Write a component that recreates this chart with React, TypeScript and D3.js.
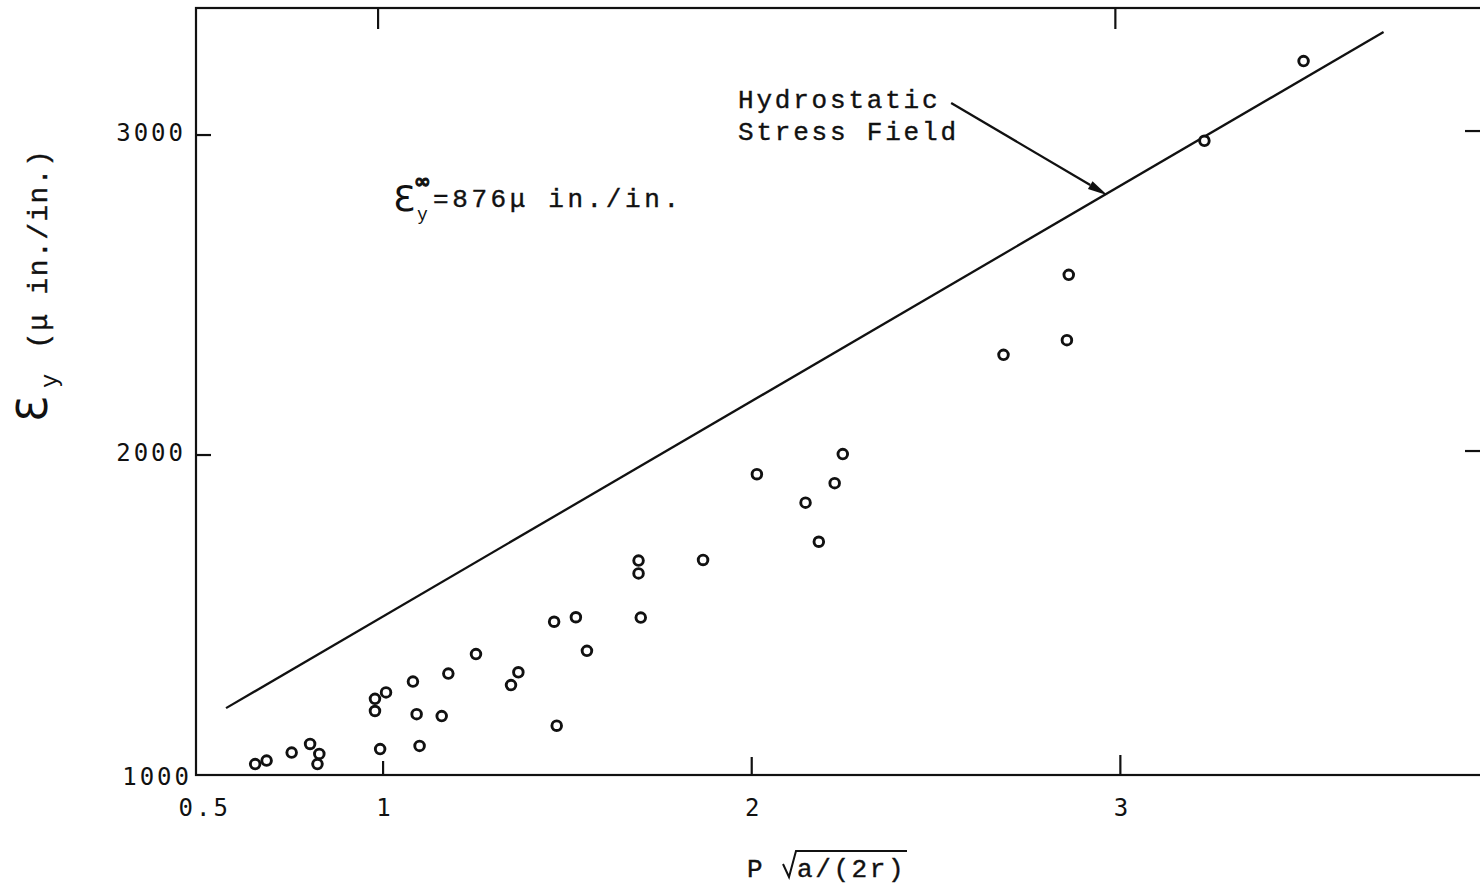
import React from "react";
import * as d3 from "d3";

// ---- data ----
const pointsX = [
  0.653, 0.684, 0.752, 0.802, 0.827, 0.822, 0.992, 0.978, 0.978, 1.008,
  1.081, 1.091, 1.099, 1.177, 1.159, 1.252, 1.347, 1.367, 1.471, 1.553,
  1.464, 1.523, 1.693, 1.693, 1.699, 1.868, 2.014, 2.247, 2.225, 2.146,
  2.182, 2.86, 2.855, 2.683, 3.497, 3.228,
];
const pointsY = [
  1034, 1045, 1070, 1097, 1066, 1034, 1081, 1200, 1238, 1258,
  1292, 1190, 1091, 1317, 1184, 1378, 1281, 1321, 1154, 1388,
  1479, 1493, 1670, 1630, 1492, 1672, 1940, 2003, 1912, 1851,
  1729, 2563, 2359, 2313, 3231, 2982,
];
const lineX = [0.574, 3.714];
const lineY = [1209, 3322];

const xTicksBottom = [1, 2, 3];
const xTickLabels = [
  { v: 0.5, t: "0.5" },
  { v: 1, t: "1" },
  { v: 2, t: "2" },
  { v: 3, t: "3" },
];
const xTicksTop = [1, 3];
const yTicks = [2000, 3000];
const yTickLabels = [
  { v: 1000, t: "1000" },
  { v: 2000, t: "2000" },
  { v: 3000, t: "3000" },
];

const X_DOMAIN = [0.4925, 4.0];
const Y_DOMAIN = [1000, 3397];

const W = 1480;
const H = 885;
const L = 196, R = 1489, T = 8, B = 775;

const mono = "'Liberation Mono', 'DejaVu Sans Mono', monospace";
const sansMono = "'DejaVu Sans Mono', 'Liberation Mono', monospace";

export default function App() {
  const x = d3.scaleLinear().domain(X_DOMAIN).range([L, R]);
  const y = d3.scaleLinear().domain(Y_DOMAIN).range([B, T]);

  const linePath = d3
    .line<number>()
    .x((_, i) => x(lineX[i]))
    .y((_, i) => y(lineY[i]))(lineX);

  // arrow in data coords
  const arrowStart = [2.541, 3100];
  const arrowEnd = [2.965, 2812];
  const ax1 = x(arrowStart[0]), ay1 = y(arrowStart[1]);
  const ax2 = x(arrowEnd[0]), ay2 = y(arrowEnd[1]);
  const ang = Math.atan2(ay2 - ay1, ax2 - ax1);
  const hl = 20, hw = 4.5;
  const bx = ax2 - hl * Math.cos(ang), by = ay2 - hl * Math.sin(ang);
  const head = `M${ax2},${ay2} L${bx + hw * Math.sin(ang)},${by - hw * Math.cos(ang)} L${bx - hw * Math.sin(ang)},${by + hw * Math.cos(ang)} Z`;

  const stroke = "#111";

  return (
    <svg
      width={W}
      height={H}
      style={{ position: "absolute", left: 0, top: 0, background: "#fff" }}
    >
      <rect x={0} y={0} width={W} height={H} fill="#fff" />
      {/* frame */}
      <rect x={L} y={T} width={R - L} height={B - T} fill="none" stroke={stroke} strokeWidth={2.2} />

      {/* ticks */}
      {xTicksBottom.map((v, i) => (
        <line key={"xb" + v} x1={x(v)} x2={x(v)} y1={B} y2={B - (i === 0 ? 14 : i === 1 ? 18 : 20)} stroke={stroke} strokeWidth={2.2} />
      ))}
      {xTicksTop.map((v) => (
        <line key={"xt" + v} x1={x(v) - 5} x2={x(v) - 5} y1={T} y2={T + 21} stroke={stroke} strokeWidth={2.2} />
      ))}
      {yTicks.map((v) => (
        <g key={"yt" + v}>
          <line x1={L} x2={L + 15} y1={y(v)} y2={y(v)} stroke={stroke} strokeWidth={2.2} />
          <line x1={1465} x2={1480} y1={y(v) - 4} y2={y(v) - 4} stroke={stroke} strokeWidth={2.2} />
        </g>
      ))}

      {/* tick labels */}
      {xTickLabels.map((d) => (
        <text key={"xl" + d.t} x={x(d.v) + (d.v === 0.5 ? 6 : 2)} y={816} textAnchor="middle" fontFamily={sansMono} fontSize={24} letterSpacing={3} fill={stroke}>
          {d.t}
        </text>
      ))}
      {yTickLabels.map((d) => (
        <text key={"yl" + d.t} x={d.v === 1000 ? 192 : 186} y={y(d.v) + (d.v === 1000 ? 10 : 6)} textAnchor="end" fontFamily={sansMono} fontSize={24} letterSpacing={3} fill={stroke}>
          {d.t}
        </text>
      ))}

      {/* hydrostatic line */}
      <path d={linePath || ""} fill="none" stroke={stroke} strokeWidth={2.3} />

      {/* points */}
      {pointsX.map((px, i) => (
        <circle key={i} cx={x(px)} cy={y(pointsY[i])} r={4.8} fill="#fff" stroke={stroke} strokeWidth={2.9} />
      ))}

      {/* arrow annotation */}
      <line x1={ax1} y1={ay1} x2={bx} y2={by} stroke={stroke} strokeWidth={2.3} />
      <path d={head} fill={stroke} />
      <text x={738} y={108} fontFamily={mono} fontSize={26} letterSpacing={2.8} fill={stroke} stroke={stroke} strokeWidth={0.4}>Hydrostatic</text>
      <text x={738} y={140} fontFamily={mono} fontSize={26} letterSpacing={2.8} fill={stroke} stroke={stroke} strokeWidth={0.4}>Stress Field</text>

      {/* epsilon infinity annotation */}
      <text x={393} y={211} fontFamily="'DejaVu Sans', sans-serif" fontSize={36} fill={stroke}>Ɛ</text>
      <text x={417} y={220} fontFamily={mono} fontSize={18} fill={stroke}>y</text>
      <text x={414} y={188} fontFamily="'DejaVu Sans', sans-serif" fontSize={20} fontWeight="bold" fill={stroke} stroke={stroke} strokeWidth={1}>∞</text>
      <text x={433} y={207} fontFamily={mono} fontSize={26} letterSpacing={3.6} fill={stroke} stroke={stroke} strokeWidth={0.4}>=876μ in./in.</text>

      {/* y axis label */}
      <g transform="translate(47,0) rotate(-90)">
        <text x={-422} y={0} fontFamily="'DejaVu Sans', sans-serif" fontSize={42} fill={stroke}>Ɛ</text>
        <text x={-388} y={10} fontFamily={mono} fontSize={24} fill={stroke}>y</text>
        <text x={-349} y={0} fontFamily={mono} fontSize={28} letterSpacing={1.4} fill={stroke} stroke={stroke} strokeWidth={0.4}>(μ in./in.)</text>
      </g>

      {/* x axis label */}
      <text x={747} y={877} fontFamily={mono} fontSize={26} fill={stroke} stroke={stroke} strokeWidth={0.4}>P</text>
      <path d="M783,864 L789,877 L796,851 L907,851" fill="none" stroke={stroke} strokeWidth={2} />
      <text x={797} y={877} fontFamily={mono} fontSize={26} letterSpacing={2.6} fill={stroke} stroke={stroke} strokeWidth={0.4}>a/(2r)</text>
    </svg>
  );
}
